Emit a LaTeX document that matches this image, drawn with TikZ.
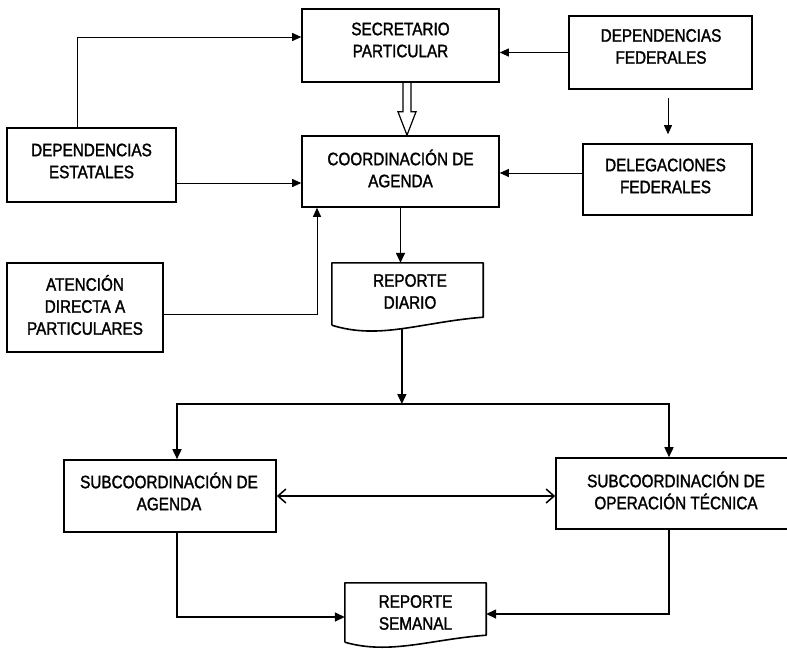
\documentclass[tikz,border=0pt]{standalone}
\usepackage{fontspec}
\setmainfont{Liberation Sans}[FakeStretch=0.85, FakeBold=1.6]
\usetikzlibrary{arrows.meta,calc}

\tikzset{
  box/.style={draw, line width=1.6pt, rectangle, inner sep=0pt},
  docbox/.style={rectangle, inner sep=0pt},
  txt/.style={align=center, inner sep=0pt, font=\fontsize{18}{22}\selectfont},
  thinlink/.style={line width=0.9pt, -{Triangle[length=9pt,width=8pt]}},
  link/.style={line width=1.5pt, -{Triangle[length=10pt,width=9pt]}},
  twoway/.style={line width=1.5pt, {Straight Barb[length=8pt,width=14pt]}-{Straight Barb[length=8pt,width=14pt]}},
  docline/.style={line width=1.6pt, line join=round}
}

\begin{document}
\begin{tikzpicture}[x=1pt,y=-1pt]
\path[use as bounding box, clip] (0,0) rectangle (787,648);

% offices
\node[box, minimum width=197pt, minimum height=73pt,
      label={[txt, yshift=5.5pt]center:SECRETARIO\\PARTICULAR}] (sp) at (400.5,45.5) {};
\node[box, minimum width=183pt, minimum height=73pt,
      label={[txt, yshift=6pt, xshift=0.5pt]center:DEPENDENCIAS\\FEDERALES}] (df) at (660.5,52.5) {};
\node[box, minimum width=169pt, minimum height=74pt,
      label={[txt, yshift=4pt]center:DEPENDENCIAS\\ESTATALES}] (de) at (91.5,165) {};
\node[box, minimum width=197pt, minimum height=71pt,
      label={[txt, yshift=3pt]center:COORDINACIÓN DE\\AGENDA}] (ca) at (400.5,171.5) {};
\node[box, minimum width=169pt, minimum height=71pt,
      label={[txt, yshift=3.5pt, xshift=-2pt]center:DELEGACIONES\\FEDERALES}] (dlf) at (667.5,179.5) {};
\node[box, minimum width=156pt, minimum height=89pt,
      label={[txt, yshift=2.5pt]center:ATENCIÓN\\DIRECTA A\\PARTICULARES}] (adp) at (85,307.5) {};
\node[box, minimum width=212pt, minimum height=72pt,
      label={[txt, yshift=4.5pt, xshift=-1pt]center:SUBCOORDINACIÓN DE\\AGENDA}] (sa) at (170,496) {};
\node[box, minimum width=240pt, minimum height=71pt,
      label={[txt, yshift=3pt]center:SUBCOORDINACIÓN DE\\OPERACIÓN TÉCNICA}] (sot) at (676,493.5) {};

% reports (document shapes)
\node[docbox, minimum width=151pt, minimum height=62pt,
      label={[txt, yshift=2.5pt, xshift=2.5pt]center:REPORTE\\DIARIO}] (rd) at (407.5,294) {};
\draw[docline] (rd.south west) -- (rd.north west) -- (rd.north east)
  -- ($(rd.south east)+(0,-8)$)
  .. controls +(-63,5) and +(48,15) .. coordinate[pos=0.5] (rdout) (rd.south west);

\node[docbox, minimum width=141pt, minimum height=59pt,
      label={[txt]center:REPORTE\\SEMANAL}] (rs) at (415.5,612.5) {};
\draw[docline] (rs.south west) -- (rs.north west) -- (rs.north east)
  -- ($(rs.south east)+(0,-7)$)
  .. controls +(-55,4) and +(45,13) .. (rs.south west);

% inputs to the upper offices
\draw[thinlink] (df.west) -- (df.west -| sp.east);
\draw[thinlink] ([xshift=-14.5pt]de.north) |- ([yshift=8.5pt]sp.west);
\coordinate (deout) at ([yshift=-18pt]de.east);
\draw[thinlink] (deout) -- (deout -| ca.west);
\coordinate (dlfout) at ([yshift=6.5pt]dlf.west);
\draw[thinlink] (dlfout) -- (dlfout -| ca.east);
\coordinate (dfdown) at ([xshift=7.5pt]df.south);
\draw[thinlink, shorten <=8pt, shorten >=9pt] (dfdown) -- (dfdown |- dlf.north);
\draw[thinlink] ([yshift=-6.5pt]adp.east) -| ([xshift=-83.5pt]ca.south);

% hollow double arrow from the secretary
\coordinate (hol) at ([xshift=6.5pt]sp.south);
\draw[line width=1.2pt, line join=miter]
  ($(hol)+(-4,0)$) -- ++(0,29) -- ++(-5,0) -- (hol |- ca.north)
  -- ($(hol)+(9,29)$) -- ++(-5,0) -- ++(0,-29);

% daily report flow
\draw[link] (ca.south) -- (ca.south |- rd.north);
\coordinate (split) at (400.5,404);
\draw[link] (rdout) -- (rdout |- split);
\draw[link] (split) -| ([xshift=7pt]sa.north);
\draw[link] (split) -| ([xshift=-7pt]sot.north);
\draw[twoway] (sa.east) -- (sa.east -| sot.west);

% weekly report
\draw[link] ([xshift=7pt]sa.south) |- ([yshift=-4.5pt]rs.west);
\draw[link] ([xshift=-7pt]sot.south) |- ([yshift=-1.5pt]rs.east);
\end{tikzpicture}
\end{document}
